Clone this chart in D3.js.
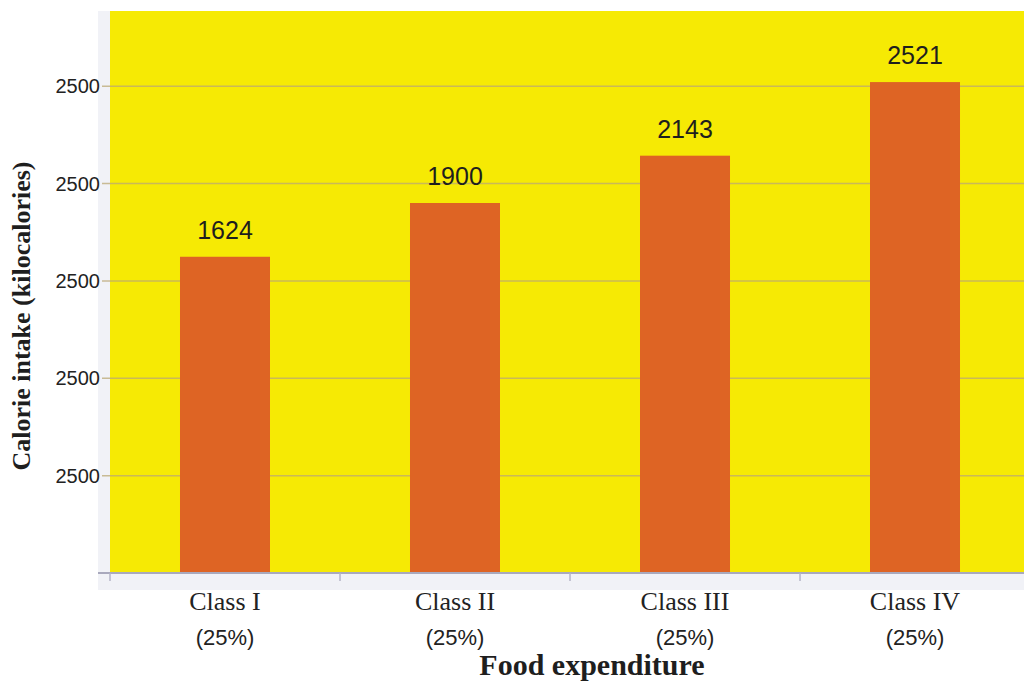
<!DOCTYPE html>
<html>
<head>
<meta charset="utf-8">
<script src="https://cdn.jsdelivr.net/npm/d3@7"></script>
<style>
  html, body { margin: 0; padding: 0; background: #fff; }
  svg { display: block; }
</style>
</head>
<body>
<div id="chart"></div>
<script>
/* Chart data. */
const classes = ['Class I', 'Class II', 'Class III', 'Class IV'];
const shares = ['(25%)', '(25%)', '(25%)', '(25%)'];
const calories = [1624, 1900, 2143, 2521];
const gridValues = [500, 1000, 1500, 2000, 2500];
const tickLabels = ['2500', '2500', '2500', '2500', '2500'];

const width = 1024;
const height = 682;
const margin = { top: 11, right: 0, bottom: 109, left: 110 };

const svg = d3.select('#chart').append('svg')
  .attr('width', width)
  .attr('height', height);

const x = d3.scaleBand()
  .domain(classes)
  .range([margin.left, margin.left + 920])
  .paddingInner(0.6087)
  .paddingOuter(0.3043);

const y = d3.scaleLinear()
  .domain([0, 2886])
  .range([height - margin.bottom, margin.top]);

const baseY = y(0);

// pale frame behind the plot
svg.append('rect')
  .attr('x', margin.left - 12)
  .attr('y', margin.top)
  .attr('width', width - margin.left + 12)
  .attr('height', baseY - margin.top + 17)
  .attr('fill', '#f1f2f7');

// yellow plot area
svg.append('rect')
  .attr('x', margin.left)
  .attr('y', margin.top)
  .attr('width', width - margin.left)
  .attr('height', baseY - margin.top)
  .attr('fill', '#f6ea04');

// gridlines
svg.append('g')
  .selectAll('line')
  .data(gridValues)
  .enter()
  .append('line')
  .attr('x1', margin.left - 8)
  .attr('x2', width)
  .attr('y1', (d) => y(d))
  .attr('y2', (d) => y(d))
  .attr('stroke', '#bba874')
  .attr('stroke-opacity', 0.75)
  .attr('stroke-width', 1.5);

// y tick labels (all read "2500" in the original)
svg.append('g')
  .selectAll('text')
  .data(gridValues)
  .enter()
  .append('text')
  .attr('x', margin.left - 10)
  .attr('y', (d) => y(d) + 7)
  .attr('text-anchor', 'end')
  .attr('font-family', 'Liberation Sans, Arial, sans-serif')
  .attr('font-size', 20)
  .attr('fill', '#222')
  .text((d, i) => tickLabels[i]);

// bars
svg.append('g')
  .selectAll('rect')
  .data(calories)
  .enter()
  .append('rect')
  .attr('x', (d, i) => x(classes[i]))
  .attr('y', (d) => y(d))
  .attr('width', x.bandwidth())
  .attr('height', (d) => baseY - y(d))
  .attr('fill', '#de6424');

// value labels
svg.append('g')
  .selectAll('text')
  .data(calories)
  .enter()
  .append('text')
  .attr('x', (d, i) => x(classes[i]) + x.bandwidth() / 2)
  .attr('y', (d) => y(d) - 18)
  .attr('text-anchor', 'middle')
  .attr('font-family', 'Liberation Sans, Arial, sans-serif')
  .attr('font-size', 25)
  .attr('fill', '#1e1e1e')
  .text((d) => d);

// x axis baseline and ticks
const axis = d3.axisBottom(x)
  .tickSize(0)
  .tickFormat('');
const gX = svg.append('g')
  .attr('transform', `translate(0, ${baseY})`)
  .call(axis);
gX.select('.domain').remove();
gX.append('line')
  .attr('x1', margin.left - 12)
  .attr('x2', width)
  .attr('stroke', '#a9a9bd')
  .attr('stroke-width', 2);
gX.selectAll('.bound')
  .data(d3.range(classes.length))
  .enter()
  .append('line')
  .attr('class', 'bound')
  .attr('x1', (i) => x(classes[i]) - x.step() * x.paddingOuter())
  .attr('x2', (i) => x(classes[i]) - x.step() * x.paddingOuter())
  .attr('y1', 0)
  .attr('y2', 8)
  .attr('stroke', '#b4b4c8')
  .attr('stroke-width', 1.5);

// category labels
const labels = svg.append('g')
  .selectAll('g')
  .data(classes)
  .enter()
  .append('g')
  .attr('transform', (d) => `translate(${x(d) + x.bandwidth() / 2}, 0)`);
labels.append('text')
  .attr('y', 610)
  .attr('text-anchor', 'middle')
  .attr('font-family', 'Liberation Serif, Times New Roman, serif')
  .attr('font-size', 26)
  .attr('fill', '#222')
  .text((d) => d);
labels.append('text')
  .attr('y', 645)
  .attr('text-anchor', 'middle')
  .attr('font-family', 'Liberation Sans, Arial, sans-serif')
  .attr('font-size', 22)
  .attr('fill', '#222')
  .text((d, i) => shares[i]);

// axis titles
svg.append('text')
  .attr('x', 592)
  .attr('y', 675)
  .attr('text-anchor', 'middle')
  .attr('font-family', 'Liberation Serif, Times New Roman, serif')
  .attr('font-weight', 'bold')
  .attr('font-size', 30)
  .attr('fill', '#1e1e1e')
  .text('Food expenditure');

svg.append('text')
  .attr('transform', 'translate(30, 316) rotate(-90)')
  .attr('text-anchor', 'middle')
  .attr('font-family', 'Liberation Serif, Times New Roman, serif')
  .attr('font-weight', 'bold')
  .attr('font-size', 26)
  .attr('fill', '#1e1e1e')
  .text('Calorie intake (kilocalories)');
</script>
</body>
</html>
